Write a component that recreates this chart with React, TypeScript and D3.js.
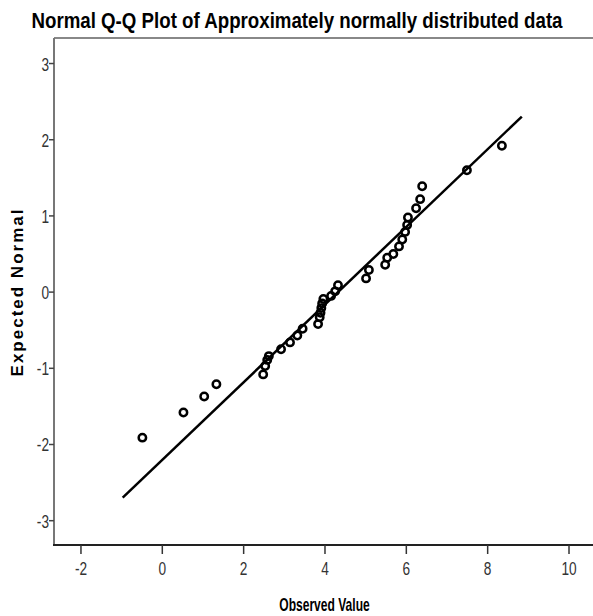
import React from "react";
import * as d3 from "d3";

const observed = [-0.49, 0.52, 1.03, 1.33, 2.48, 2.53, 2.58, 2.62, 2.92, 3.14, 3.32, 3.45, 3.83, 3.87, 3.89, 3.91, 3.93, 3.96, 4.15, 4.25, 4.32, 5.01, 5.08, 5.48, 5.53, 5.68, 5.82, 5.9, 5.97, 6.02, 6.04, 6.24, 6.34, 6.39, 7.49, 8.35];
const expected = [-1.91, -1.58, -1.37, -1.21, -1.08, -0.97, -0.89, -0.84, -0.75, -0.66, -0.57, -0.48, -0.42, -0.33, -0.27, -0.21, -0.15, -0.09, -0.05, 0.01, 0.09, 0.18, 0.29, 0.36, 0.45, 0.5, 0.6, 0.69, 0.79, 0.88, 0.98, 1.1, 1.22, 1.39, 1.6, 1.92];
const refLineX = [-0.974, 8.84];
const refMean = 4.32;
const refSd = 1.962;
const xTicks = [-2, 0, 2, 4, 6, 8, 10];
const yTicks = [-3, -2, -1, 0, 1, 2, 3];

const W = 593, H = 616;
const left = 54, right = 593, top = 38, bottom = 545;

export default function App() {
  const x = d3.scaleLinear().domain([-2.663, 10.59]).range([left, right]);
  const y = d3.scaleLinear().domain([-3.319, 3.335]).range([bottom, top]);
  const font = "'Liberation Sans', Arial, sans-serif";
  const lineGen = d3.line<number>().x(v => x(v)).y(v => y((v - refMean) / refSd));
  return (
    <svg width={W} height={H} style={{ position: "absolute", left: 0, top: 0, background: "#fff" }}>
      <text transform="translate(297,28) scale(0.85,1)" textAnchor="middle" fontFamily={font} fontWeight="bold" fontSize={22} fill="#000">
        Normal Q-Q Plot of Approximately normally distributed data
      </text>
      {/* frame */}
      <line x1={left} x2={right} y1={top} y2={top} stroke="#888" strokeWidth={2} />
      <line x1={left} x2={left} y1={top} y2={bottom} stroke="#777" strokeWidth={2} />
      <line x1={left - 1} x2={right} y1={bottom} y2={bottom} stroke="#222" strokeWidth={2} />
      {yTicks.map(t => (
        <g key={"y" + t}>
          <line x1={left - 5} x2={left} y1={y(t)} y2={y(t)} stroke="#444" strokeWidth={1.5} />
          <text transform={`translate(${left - 5},${y(t) + 7}) scale(0.72,1)`} textAnchor="end" fontFamily={font} fontSize={19} fill="#333">{t}</text>
        </g>
      ))}
      {xTicks.map(t => (
        <g key={"x" + t}>
          <line x1={x(t)} x2={x(t)} y1={bottom} y2={bottom + 9} stroke="#333" strokeWidth={1.5} />
          <text transform={`translate(${x(t)},${bottom + 30}) scale(0.72,1)`} textAnchor="middle" fontFamily={font} fontSize={19} fill="#333">{t}</text>
        </g>
      ))}
      <text transform="translate(324.5,611) scale(0.67,1)" textAnchor="middle" fontFamily={font} fontWeight="bold" fontSize={18} fill="#000">Observed Value</text>
      <text transform={`translate(23,292) rotate(-90)`} textAnchor="middle" fontFamily={font} fontWeight="bold" fontSize={17} fill="#000"
        letterSpacing={2}>Expected Normal</text>
      <path d={lineGen(refLineX) || ""} stroke="#000" strokeWidth={2.5} fill="none" />
      {observed.map((v, i) => (
        <circle key={i} cx={x(v)} cy={y(expected[i])} r={3.7} fill="none" stroke="#000" strokeWidth={2.5} />
      ))}
    </svg>
  );
}
